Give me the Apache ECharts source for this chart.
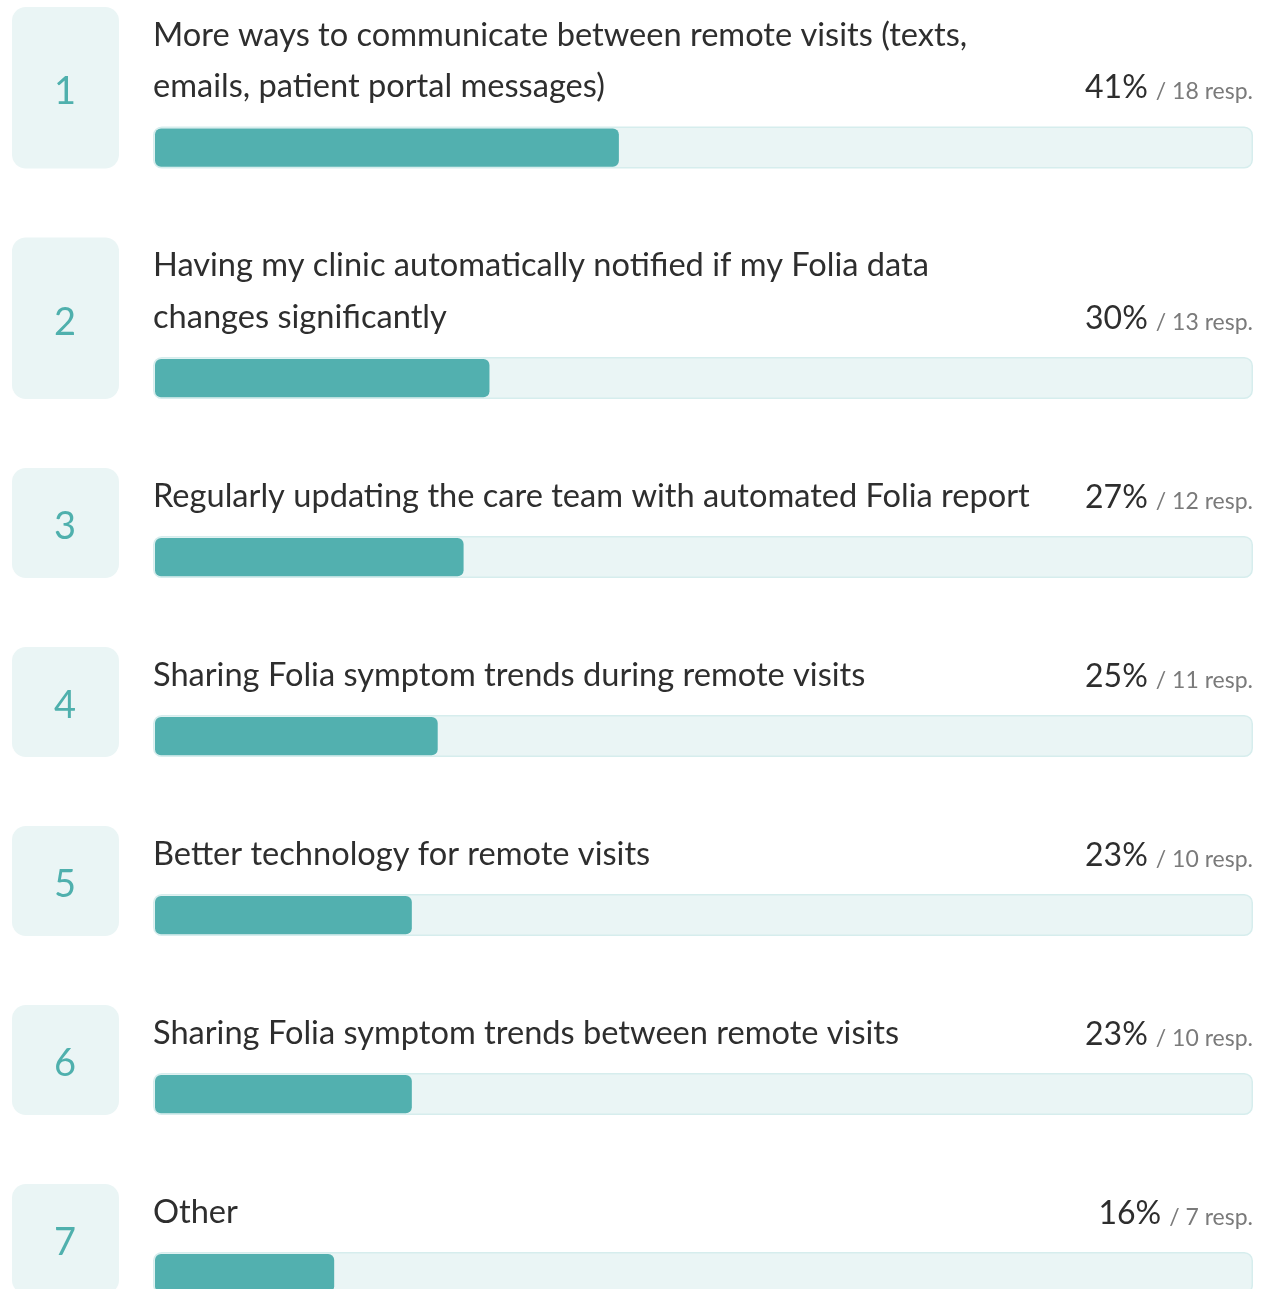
<!DOCTYPE html>
<html>
<head>
<meta charset="utf-8">
<script src="https://cdn.jsdelivr.net/npm/echarts@6/dist/echarts.min.js"></script>
<style>
html,body{margin:0;padding:0;background:#ffffff;}
#chart{width:1263px;height:1289px;}
</style>
</head>
<body>
<div id="chart"></div>
<script>
// ---------- data ----------
const categories = [
  "More ways to communicate between remote visits (texts, emails, patient portal messages)",
  "Having my clinic automatically notified if my Folia data changes significantly",
  "Regularly updating the care team with automated Folia report",
  "Sharing Folia symptom trends during remote visits",
  "Better technology for remote visits",
  "Sharing Folia symptom trends between remote visits",
  "Other"
];
const ranks = [1, 2, 3, 4, 5, 6, 7];
const percents = [41, 30, 27, 25, 23, 23, 16];
const responses = [18, 13, 12, 11, 10, 10, 7];
const axisMax = 42.5;

// ---------- style / layout ----------
const FONT_FAMILY = 'Lato, "Noto Sans", sans-serif';
const LABEL_SIZE = 32.6;
const PCT_SIZE = 32;
const RESP_SIZE = 23;
const NUM_SIZE = 38;
const MID = 0.387;           // middle-to-baseline offset (em) for the font
const LEFT = 153, RIGHT = 1253;
const TRACK_H = 42;
const BOX_X = 12, BOX_W = 107;
const LINE_H = 51.5;
const BASE_H = 110;
const GAP = 69;
const TOP0 = 7;
const TEAL = '#52b0af';
const LIGHT = '#eaf5f5';

const ctx = document.createElement('canvas').getContext('2d');
function measure(text, size, weight) {
  ctx.font = (weight || 'normal') + ' ' + size + 'px ' + FONT_FAMILY;
  return ctx.measureText(text).width;
}
function wrap(text, maxW) {
  const words = text.split(' ');
  const lines = [];
  let cur = '';
  words.forEach(w => {
    const test = cur ? cur + ' ' + w : w;
    if (cur && measure(test, LABEL_SIZE) > maxW) { lines.push(cur); cur = w; }
    else cur = test;
  });
  if (cur) lines.push(cur);
  return lines;
}

// compute per-item layout
let T = TOP0;
const items = categories.map((c, i) => {
  const respText = '/ ' + responses[i] + ' resp.';
  const pctText = percents[i] + '%';
  const respW = measure(respText, RESP_SIZE);
  const pctW = measure(pctText, PCT_SIZE);
  const pctRight = RIGHT - respW - 8;
  const maxW = pctRight - pctW - 46 - LEFT;
  const lines = wrap(c, maxW);
  const H = BASE_H + LINE_H * (lines.length - 1);
  const it = { T, H, lines, respText, pctText, pctRight };
  T += H + GAP;
  return it;
});

const grids = [], xAxes = [], yAxes = [], series = [];
items.forEach((it, i) => {
  grids.push({
    left: LEFT, top: it.T + it.H - TRACK_H, width: RIGHT - LEFT, height: TRACK_H,
    containLabel: false, outerBoundsMode: 'none'
  });
  xAxes.push({ type: 'value', gridIndex: i, min: 0, max: axisMax, show: false });
  yAxes.push({ type: 'category', gridIndex: i, data: [categories[i]], show: false });
  series.push({
    type: 'custom',
    xAxisIndex: i,
    yAxisIndex: i,
    clip: false,
    data: [[responses[i], 0]],
    encode: { x: 0, y: 1 },
    renderItem: function (params, api) {
      const cs = params.coordSys;
      const v = api.value(0);
      const start = api.coord([0, 0]);
      const end = api.coord([v, 0]);
      const trackTop = cs.y;
      const boxTop = trackTop + TRACK_H - it.H;
      const children = [];
      // rank box
      children.push({
        type: 'rect',
        shape: { x: BOX_X, y: boxTop, width: BOX_W, height: it.H, r: 14 },
        style: { fill: LIGHT }
      });
      children.push({
        type: 'text',
        style: {
          text: String(ranks[i]), x: BOX_X + BOX_W / 2 - 0.5, y: boxTop + it.H / 2 + 4,
          fill: '#4fb0ad', font: 'normal ' + NUM_SIZE + 'px ' + FONT_FAMILY,
          align: 'center', verticalAlign: 'middle'
        }
      });
      // label lines
      let lastBase = 0;
      it.lines.forEach((ln, k) => {
        const base = boxTop + 41 + LINE_H * k;
        lastBase = base;
        children.push({
          type: 'text',
          style: {
            text: ln, x: LEFT, y: base - MID * LABEL_SIZE,
            fill: '#2e2e2e', font: LABEL_SIZE + 'px ' + FONT_FAMILY,
            align: 'left', verticalAlign: 'middle'
          }
        });
      });
      // percent + responses
      children.push({
        type: 'text',
        style: {
          text: it.pctText, x: it.pctRight, y: lastBase + 1 - MID * PCT_SIZE,
          fill: '#2e2e2e', font: PCT_SIZE + 'px ' + FONT_FAMILY,
          align: 'right', verticalAlign: 'middle'
        }
      });
      children.push({
        type: 'text',
        style: {
          text: it.respText, x: RIGHT, y: lastBase + 1 - MID * RESP_SIZE,
          fill: '#7a7a7a', font: RESP_SIZE + 'px ' + FONT_FAMILY,
          align: 'right', verticalAlign: 'middle'
        }
      });
      // track
      children.push({
        type: 'rect',
        shape: { x: cs.x + 0.75, y: trackTop + 0.75, width: cs.width - 1.5, height: TRACK_H - 1.5, r: 8 },
        style: { fill: LIGHT, stroke: '#d6eded', lineWidth: 1.5 }
      });
      // fill bar
      children.push({
        type: 'rect',
        shape: { x: start[0] + 2, y: trackTop + 2, width: Math.max(0, end[0] - start[0] - 2), height: TRACK_H - 3.8, r: 6 },
        style: { fill: TEAL }
      });
      return { type: 'group', children: children };
    }
  });
});

const chart = echarts.init(document.getElementById('chart'), null, { renderer: 'canvas' });
chart.setOption({
  animation: false,
  backgroundColor: '#ffffff',
  grid: grids,
  xAxis: xAxes,
  yAxis: yAxes,
  series: series
});
</script>
</body>
</html>
